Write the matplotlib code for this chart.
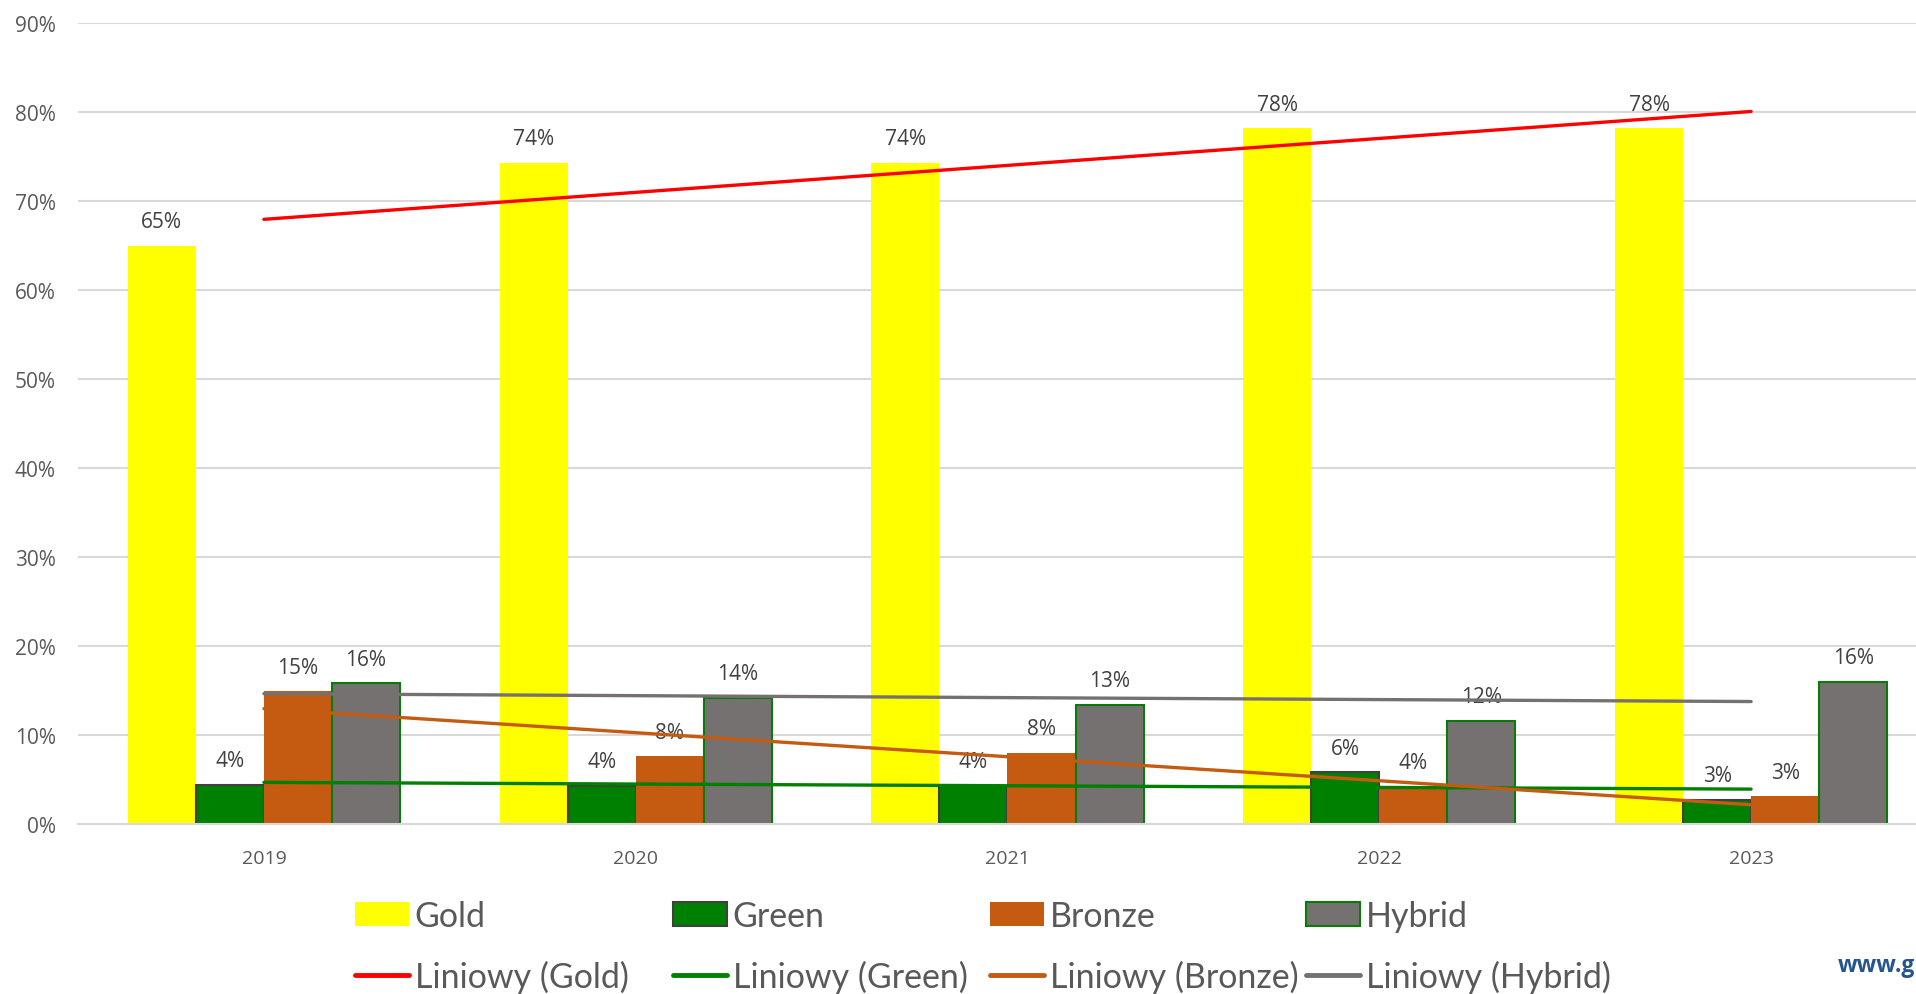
import numpy as np
import matplotlib.pyplot as plt
from matplotlib.patches import Patch
from matplotlib.lines import Line2D

plt.rcParams['font.family'] = ['Open Sans', 'DejaVu Sans']

# values (percent)
years = ['2019', '2020', '2021', '2022', '2023']
gold = [65.0, 74.3, 74.3, 78.2, 78.2]
green = [4.4, 4.3, 4.3, 5.8, 2.7]
bronze = [14.9, 7.6, 8.0, 4.2, 3.1]
hybrid = [15.8, 14.2, 13.4, 11.6, 16.0]

names = ['Gold', 'Green', 'Bronze', 'Hybrid']
fills = ['#FFFF00', '#008000', '#C55A11', '#767171']
edges = ['none', '#404040', 'none', '#0A7A0A']
trend_cols = ['#FF0000', '#008000', '#C55A11', '#767171']

W, H = 1916, 995
fig = plt.figure(figsize=(W / 100, H / 100), dpi=100)
ax = fig.add_axes([78 / W, 170 / H, 1859 / W, 801 / H])

x = np.arange(len(years))
w = 0.183
txt = '#595959'

for i, vals in enumerate([gold, green, bronze, hybrid]):
    bars = ax.bar(x + (i - 1.5) * w, vals, w, color=fills[i], edgecolor=edges[i],
                  linewidth=1.5, zorder=2)
    for b, v in zip(bars, vals):
        ax.annotate(f'{v:.0f}%', (b.get_x() + b.get_width() / 2, v),
                    xytext=(0, 24), textcoords='offset pixels',
                    ha='center', va='center', fontsize=15, color='#404040', zorder=1)

# linear trend lines (Excel "Liniowy")
for vals, c in zip([gold, green, bronze, hybrid], trend_cols):
    k, b0 = np.polyfit(x, vals, 1)
    ends = x[[0, -1]]
    ax.plot(ends, k * ends + b0, color=c, lw=2.4, zorder=3, solid_capstyle='round')

ax.set_xlim(-0.5, 4.5)
ax.set_ylim(0, 90)
ax.set_yticks(range(0, 91, 10))
ax.set_yticklabels([f'{t}%' for t in range(0, 91, 10)])
ax.set_xticks(x)
ax.set_xticklabels(years)
ax.yaxis.grid(True, color='#D9D9D9', lw=1.5)
ax.set_axisbelow(True)
for s in ['top', 'right', 'left']:
    ax.spines[s].set_visible(False)
ax.spines['bottom'].set_color('#D9D9D9')
ax.spines['bottom'].set_linewidth(1.5)
ax.tick_params(axis='y', length=0, pad=16, labelsize=15, labelcolor=txt)
ax.tick_params(axis='x', length=0, pad=18, labelsize=14, labelcolor=txt)

# legend: 4 fixed-width columns, 2 rows
col_x = [355, 673, 990, 1306]
row_y = [917, 977]
for i in range(4):
    entries = [Patch(facecolor=fills[i], edgecolor=edges[i], linewidth=1.5),
               Line2D([], [], color=trend_cols[i], lw=3.5, solid_capstyle='round')]
    labels = [names[i], f'Liniowy ({names[i]})']
    for r in range(2):
        fig.legend([entries[r]], [labels[r]], loc='center left',
                   bbox_to_anchor=(col_x[i] / W, 1 - row_y[r] / H),
                   frameon=False, borderpad=0, borderaxespad=0,
                   handlelength=1.6, handleheight=0.72, handletextpad=0.15,
                   prop={'family': ['Lato', 'DejaVu Sans'], 'size': 24.5},
                   labelcolor=txt)

fig.text(1838 / W, 1 - 966 / H, 'www.g', color='#24558F', fontsize=16.5,
         fontweight='bold', va='center', ha='left')

fig.savefig('out.png', dpi=100)
